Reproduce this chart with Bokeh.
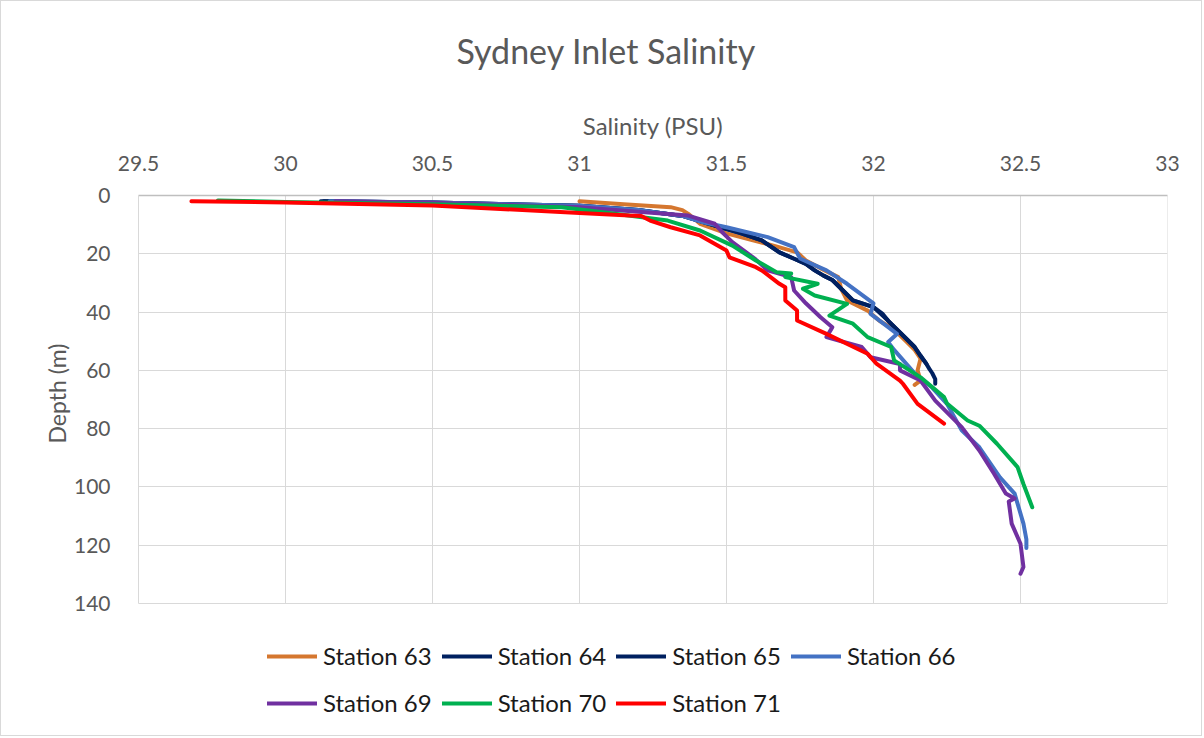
from bokeh.plotting import figure
from bokeh.models import Range1d, FixedTicker, Legend, LegendItem, Title
from bokeh.embed import file_html
from bokeh.resources import INLINE

# ---------------- data ----------------
x_ticks = [29.5, 30, 30.5, 31, 31.5, 32, 32.5, 33]
x_tick_labels = ["29.5", "30", "30.5", "31", "31.5", "32", "32.5", "33"]
y_ticks = [0, 20, 40, 60, 80, 100, 120, 140]
y_tick_labels = ["0", "20", "40", "60", "80", "100", "120", "140"]

stations = ["Station 63", "Station 64", "Station 65", "Station 66",
            "Station 69", "Station 70", "Station 71"]

s63_sal = [31.00, 31.15, 31.31, 31.35, 31.37, 31.39, 31.41, 31.50, 31.59, 31.66, 31.74, 31.77,
           31.82, 31.88, 31.89, 31.91, 31.98, 32.02, 32.07, 32.11, 32.14, 32.16, 32.15, 32.16, 32.14]
s63_dep = [2, 3, 4, 5, 6.3, 8, 9.7, 13, 15.4, 17.2, 19.5, 22.3,
           25, 28, 32, 36, 39.5, 43, 46, 50, 53, 56, 60, 63.5, 65]

s64_sal = [30.13, 30.5, 31.0, 31.2, 31.35, 31.48, 31.55, 31.62, 31.68, 31.73, 31.77, 31.80,
           31.83, 31.86, 31.89, 31.93, 32.00, 32.05, 32.09, 32.14, 32.16, 32.18]
s64_dep = [2, 2.4, 3.5, 5, 7, 10.9, 13, 15.4, 19.5, 21.7, 23.5, 25.7,
           27.5, 29, 32, 36, 38.3, 43, 47, 52, 55, 57.8]

s65_sal = [30.12, 30.5, 31.0, 31.2, 31.35, 31.48, 31.55, 31.62, 31.68, 31.73, 31.77, 31.80,
           31.83, 31.86, 31.89, 31.93, 32.00, 32.03, 32.05, 32.09, 32.11, 32.14, 32.16,
           32.18, 32.19, 32.20, 32.21, 32.21]
s65_dep = [2, 2.4, 3.5, 5, 7, 10.9, 13, 15.4, 19.5, 21.7, 23.5, 25.7,
           27.5, 29, 32, 36, 38.3, 40.5, 43, 47, 49, 52, 55,
           57.8, 59.5, 61, 63, 64.6]

s66_sal = [30.15, 30.5, 31.0, 31.2, 31.35, 31.42, 31.50, 31.64, 31.73, 31.75, 31.78, 31.84,
           31.91, 32.00, 31.99, 32.05, 32.08, 32.05, 32.07, 32.14, 32.20, 32.25, 32.30,
           32.36, 32.43, 32.48, 32.51, 32.52, 32.52]
s66_dep = [2, 2.4, 3.5, 5, 7, 9.2, 10.9, 14.3, 17.7, 21.6, 23, 25.7,
           30.3, 37, 40.6, 45.2, 47.5, 50.3, 53, 61, 66, 71.5, 80.6,
           86.4, 96.7, 102.3, 112.6, 118, 121]

s69_sal = [30.17, 30.5, 31.0, 31.21, 31.37, 31.46, 31.49, 31.52, 31.59, 31.60, 31.64, 31.72,
           31.73, 31.77, 31.82, 31.86, 31.84, 31.96, 31.99, 32.09, 32.09, 32.16, 32.21,
           32.30, 32.36, 32.41, 32.45, 32.48, 32.46, 32.47, 32.50, 32.51, 32.50]
s69_dep = [2, 2.5, 4, 5.7, 6.9, 9.7, 13.1, 16, 21.2, 22, 25.7, 28,
           32.6, 37, 41.8, 45.2, 48.6, 52, 55.5, 57.8, 60, 63.5, 70.4,
           79.5, 87.5, 95.5, 102.3, 104, 105, 112.6, 119.5, 127.5, 129.8]

s70_sal = [29.77, 30.0, 30.5, 30.94, 31.1, 31.30, 31.41, 31.52, 31.60, 31.62, 31.67, 31.72,
           31.70, 31.81, 31.76, 31.80, 31.91, 31.85, 31.93, 31.98, 32.06, 32.07, 32.16,
           32.24, 32.25, 32.32, 32.36, 32.42, 32.49, 32.51, 32.54]
s70_dep = [1.7, 2.2, 3.0, 4, 6, 8.6, 12, 17.2, 22.3, 23.4, 26.3, 26.8,
           28, 30.3, 32, 34.3, 37.2, 41.2, 44, 48.6, 52, 56.6, 62.4,
           69.2, 71.4, 77.2, 79, 85.2, 93.2, 99, 107]

s71_sal = [29.68, 30.0, 30.5, 31.0, 31.17, 31.21, 31.24, 31.31, 31.41, 31.50, 31.51, 31.60,
           31.62, 31.68, 31.70, 31.70, 31.74, 31.74, 31.84, 31.98, 32.01, 32.09, 32.10,
           32.15, 32.24]
s71_dep = [1.95, 2.4, 3.4, 6.0, 6.9, 7.0, 8.6, 10.9, 13.7, 18.9, 21.2, 24.6,
           25.7, 30.3, 31.5, 36, 39.5, 42.9, 47.5, 54.3, 57.7, 63.5, 64.6,
           71.5, 78.3]

series_sal = [s63_sal, s64_sal, s65_sal, s66_sal, s69_sal, s70_sal, s71_sal]
series_dep = [s63_dep, s64_dep, s65_dep, s66_dep, s69_dep, s70_dep, s71_dep]
colors = ["#D5772F", "#002060", "#002060", "#4472C4", "#7030A0", "#00B050", "#FF0000"]

FONT = "Lato"
GREY = "#595959"
GRID = "#d9d9d9"

# The frame extends below depth 140 so that the legend (drawn inside the frame) is not clipped.
p = figure(width=1202, height=736,
           x_range=Range1d(29.5, 33), y_range=Range1d(186, 0),
           x_axis_location="above",
           output_backend="svg", toolbar_location=None,
           title="Sydney Inlet Salinity",
           min_border_left=137, min_border_right=36,
           min_border_top=194, min_border_bottom=0,
           styles={"border": "1px solid #d9d9d9"})

p.outline_line_color = None
p.background_fill_color = "white"
p.border_fill_color = "white"

p.title.align = "left"
p.title.offset = 318
p.title.text_font = FONT
p.title.text_font_size = "34px"
p.title.text_font_style = "normal"
p.title.text_color = GREY
p.title.standoff = 51

xa = p.xaxis[0]
xa.ticker = FixedTicker(ticks=x_ticks)
xa.major_label_overrides = {t: l for t, l in zip(x_ticks, x_tick_labels)}
ya = p.yaxis[0]
ya.ticker = FixedTicker(ticks=y_ticks)
ya.major_label_overrides = {t: l for t, l in zip(y_ticks, y_tick_labels)}
ya.bounds = (y_ticks[0], y_ticks[-1])

for ax in (xa, ya):
    ax.major_tick_line_color = None
    ax.minor_tick_line_color = None
    ax.major_label_text_font = FONT
    ax.major_label_text_font_size = "21px"
    ax.major_label_text_color = GREY
xa.major_label_standoff = 19
ya.major_label_standoff = 22
xa.axis_line_color = "#bfbfbf"
xa.axis_line_width = 1.5
ya.axis_line_color = GRID

# x-axis title (between the tick labels and the chart title)
xtitle = Title(text="Salinity (PSU)", align="center", standoff=25,
               text_font=FONT, text_font_size="24px", text_font_style="normal",
               text_color=GREY)
p.add_layout(xtitle, "above")

# y-axis title, placed beside the 0-140 part of the axis
ytitle = Title(text="Depth (m)", align="left", offset=294, standoff=0,
               text_font=FONT, text_font_size="23px", text_font_style="normal",
               text_color=GREY)
p.add_layout(ytitle, "left")

# grid: horizontal lines from the y ticker, vertical lines drawn from the x ticks down to depth 140
p.xgrid.visible = False
p.ygrid.grid_line_color = GRID
p.ygrid.ticker = FixedTicker(ticks=y_ticks)
p.segment(x0=x_ticks, y0=[y_ticks[0]] * len(x_ticks),
          x1=x_ticks, y1=[y_ticks[-1]] * len(x_ticks),
          line_color=GRID, line_width=1)

items = []
for name, sal, dep, col in zip(stations, series_sal, series_dep, colors):
    r = p.line(sal, dep, line_color=col, line_width=4,
               line_join="round", line_cap="round")
    items.append(LegendItem(label=name, renderers=[r]))

legend = Legend(items=items, ncols=4, orientation="horizontal",
                location=(129, 16),
                glyph_width=50, glyph_height=20, label_standoff=6,
                spacing=10, label_height=37, padding=0, margin=0,
                border_line_color=None, background_fill_alpha=0,
                label_text_font=FONT, label_text_font_size="24px",
                label_text_color="#1a1a1a")
p.add_layout(legend, "center")

open("out.html", "w").write(file_html(p, INLINE))
